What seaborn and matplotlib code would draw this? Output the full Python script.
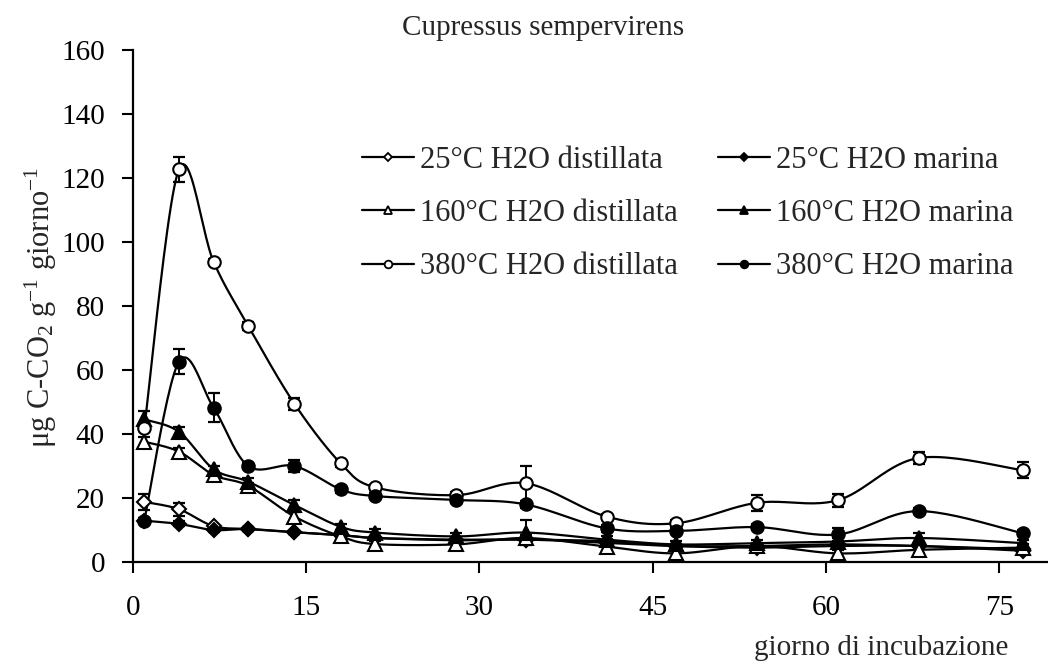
import numpy as np
import pandas as pd
import matplotlib
matplotlib.use("Agg")
import matplotlib.pyplot as plt
from matplotlib.lines import Line2D
import seaborn as sns

# ---------------- data ----------------
days = [1, 4, 7, 10, 14, 18, 21, 28, 34, 41, 47, 54, 61, 68, 77]

labels = ["25°C H2O distillata", "25°C H2O marina",
          "160°C H2O distillata", "160°C H2O marina",
          "380°C H2O distillata", "380°C H2O marina"]

d25 = [18.8, 16.5, 11.2, 10.3, 9.3, 8.4, 7.5, 6.8, 7.0, 6.0, 5.0, 5.0, 5.5, 5.0, 4.0]
m25 = [12.9, 11.9, 10.0, 10.3, 9.3, 8.4, 7.5, 7.0, 7.0, 6.5, 5.0, 4.5, 5.0, 5.0, 3.5]
d160 = [37.6, 34.5, 27.2, 23.8, 14.2, 8.0, 5.6, 5.5, 7.5, 4.8, 2.7, 5.0, 2.7, 3.8, 4.5]
m160 = [44.6, 40.7, 29.0, 25.1, 17.8, 11.0, 9.2, 8.0, 9.2, 7.0, 5.5, 5.9, 6.4, 7.5, 5.9]
d380 = [41.8, 122.7, 93.8, 73.8, 49.4, 30.8, 23.3, 20.9, 24.6, 14.2, 12.1, 18.5, 19.3, 32.5, 28.7]
m380 = [12.9, 62.6, 48.2, 30.0, 30.0, 22.7, 20.6, 19.4, 18.0, 10.5, 9.7, 10.9, 8.6, 15.9, 9.0]

d25_err = [2.5, 2.0, 0.5, 0.5, 0.5, 0.5, 0.5, 0.5, 0.5, 0.5, 0.5, 0.5, 0.5, 0.5, 0.5]
m25_err = [0.8, 0.8, 0.5, 0.5, 0.5, 0.5, 0.5, 0.5, 0.5, 0.5, 0.5, 0.5, 0.5, 0.5, 0.5]
d160_err = [1.5, 1.0, 1.0, 1.0, 1.5, 1.0, 1.0, 1.0, 1.0, 1.0, 1.0, 1.0, 1.0, 1.0, 1.0]
m160_err = [2.5, 1.5, 1.0, 1.0, 1.5, 1.0, 1.0, 1.0, 4.0, 1.0, 1.0, 1.0, 1.0, 1.5, 1.0]
d380_err = [1.0, 4.0, 0.8, 1.2, 2.0, 1.0, 0.8, 1.0, 5.5, 0.8, 1.0, 2.5, 2.0, 2.0, 2.5]
m380_err = [1.0, 4.0, 4.5, 1.0, 2.0, 1.0, 1.0, 1.0, 1.0, 1.0, 1.0, 1.0, 2.0, 1.0, 1.0]

series = [d25, m25, d160, m160, d380, m380]
errors = [d25_err, m25_err, d160_err, m160_err, d380_err, m380_err]
markers = ["D", "D", "^", "^", "o", "o"]
filled = [False, True, False, True, False, True]
msizes = {"D": 6.8, "^": 10, "o": 9}

# ---------------- style ----------------
sns.set_theme(style="ticks")
plt.rcParams["font.family"] = ["Liberation Serif", "DejaVu Serif"]
plt.rcParams["mathtext.fontset"] = "custom"
plt.rcParams["mathtext.rm"] = "Liberation Serif"
plt.rcParams["mathtext.it"] = "Liberation Serif:italic"
FS = 21

W, H = 1048, 662
fig = plt.figure(figsize=(W / 100, H / 100), dpi=100)
fig.patch.set_facecolor("white")
x0, x1, y0, y1 = 132.7, 1048, 562, 50
ax = fig.add_axes([x0 / W, 1 - y0 / H, (x1 - x0) / W, (y0 - y1) / H])
ax.set_facecolor("white")


def smooth(xs, ys, n=24):
    """Excel-like smoothed line (cubic Bezier, Catmull-Rom control points)."""
    P = np.column_stack([xs, ys]).astype(float)
    out = [P[0]]
    for i in range(len(P) - 1):
        p0 = P[i - 1] if i > 0 else P[i]
        p1, p2 = P[i], P[i + 1]
        p3 = P[i + 2] if i + 2 < len(P) else P[i + 1]
        c1 = p1 + (p2 - p0) / 6.0
        c2 = p2 - (p3 - p1) / 6.0
        t = np.linspace(0, 1, n)[1:, None]
        seg = ((1 - t) ** 3) * p1 + 3 * ((1 - t) ** 2) * t * c1 + 3 * (1 - t) * t ** 2 * c2 + t ** 3 * p2
        out.extend(seg)
    out = np.array(out)
    return out[:, 0], out[:, 1]


for vals, err, mk, fl, lab in zip(series, errors, markers, filled, labels):
    sx, sy = smooth(days, vals)
    curve = pd.DataFrame({"x": sx, "y": sy})
    sns.lineplot(data=curve, x="x", y="y", ax=ax, color="black", lw=1.6,
                 sort=False, estimator=None, zorder=2)
    ax.errorbar(days, vals, yerr=err, fmt="none", ecolor="black",
                elinewidth=1.4, capsize=4.5, capthick=1.6, zorder=3)
    ax.plot(days, vals, linestyle="none", marker=mk, ms=msizes[mk],
            mfc="black" if fl else "white", mec="black", mew=1.5, zorder=4)

ax.set_xlim(0, 79.2)
ax.set_ylim(0, 160)
ax.set_xticks([0, 15, 30, 45, 60, 75])
ax.set_yticks(range(0, 161, 20))
for s in ["top", "right"]:
    ax.spines[s].set_visible(False)
for s in ["left", "bottom"]:
    ax.spines[s].set_color("black")
    ax.spines[s].set_linewidth(1.6)
ax.tick_params(axis="both", direction="out", length=8, width=1.5,
               colors="black", labelsize=FS)
ax.tick_params(axis="x", pad=16)
ax.tick_params(axis="y", pad=12)
ax.set_xlabel("")
ax.set_ylabel("")
ax.grid(False)

# legend: row-wise order (distillata | marina)
handles = []
for mk, fl, lab in zip(markers, filled, labels):
    handles.append(Line2D([0], [0], color="black", lw=1.6, marker=mk,
                          ms=5.5 if mk != "D" else 4.5,
                          mfc="black" if fl else "white", mec="black", mew=1.3,
                          label=lab))
order = [0, 2, 4, 1, 3, 5]
handles = [handles[i] for i in order]
leg = ax.legend(handles=handles, ncol=2, frameon=False, fontsize=22,
                loc="upper left",
                bbox_to_anchor=((362 - x0) / (x1 - x0), (y0 - 146) / (y0 - y1)),
                handlelength=1.7, handletextpad=0.2, columnspacing=1.3,
                labelspacing=0.79, borderaxespad=0, borderpad=0)

fig.text(543 / W, 1 - 28 / H, "Cupressus sempervirens", ha="center", va="center", fontsize=FS)
fig.text(1008 / W, 1 - 648 / H, "giorno di incubazione", ha="right", va="center", fontsize=FS)
fig.text(41 / W, 1 - 307 / H, r"μg C-CO$_2$ g$^{-1}$ giorno$^{-1}$", rotation=90,
         ha="center", va="center", fontsize=22)

fig.savefig("out.png", dpi=100, facecolor="white")
